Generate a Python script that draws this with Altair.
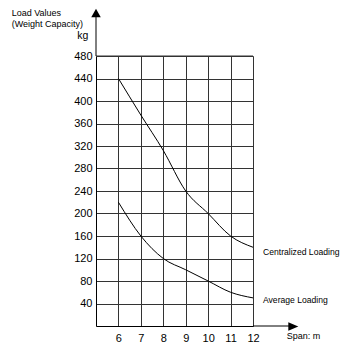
import altair as alt
import pandas as pd

span = [6, 7, 8, 9, 10, 11, 12]
centralized = [440, 375, 312, 240, 200, 160, 140]
average = [220, 160, 120, 100, 80, 60, 50]
y_ticks = [40, 80, 120, 160, 200, 240, 280, 320, 360, 400, 440, 480]
series_names = ["Centralized Loading", "Average Loading"]

FONT = "Liberation Sans"

df = pd.DataFrame({
    "span": span * 2,
    "load": centralized + average,
    "series": [series_names[0]] * len(span) + [series_names[1]] * len(span),
})
one = pd.DataFrame({"k": [0]})

x_scale = alt.Scale(domain=[5, 12], nice=False, zero=False)
y_scale = alt.Scale(domain=[0, 480], nice=False)
x_axis = alt.Axis(values=span, title=None, labelPadding=6, labelOverlap=False)
y_axis = alt.Axis(values=y_ticks, title=None, labelPadding=4, labelOverlap=False)

X = alt.X("span:Q", scale=x_scale, axis=x_axis)
Y = alt.Y("load:Q", scale=y_scale, axis=y_axis)

lines = alt.Chart(df).mark_line(color="black", strokeWidth=1, interpolate="monotone").encode(
    x=X, y=Y, detail="series:N",
)

last_c = pd.DataFrame({"span": [span[-1]], "load": [centralized[-1]], "label": [series_names[0]]})
last_a = pd.DataFrame({"span": [span[-1]], "load": [average[-1]], "label": [series_names[1]]})

lab_c = alt.Chart(last_c).mark_text(align="left", baseline="middle", dx=10, dy=4.5,
                                    fontSize=8.6, font=FONT, color="black").encode(
    x=X, y=Y, text="label:N")
lab_a = alt.Chart(last_a).mark_text(align="left", baseline="middle", dx=10, dy=2,
                                    fontSize=8.6, font=FONT, color="black").encode(
    x=X, y=Y, text="label:N")

# axis extensions with arrow heads
y_ext = alt.Chart(one).mark_rule(color="black", strokeWidth=1).encode(
    x=alt.value(0), y=alt.value(-40), y2=alt.value(0))
x_ext = alt.Chart(one).mark_rule(color="black", strokeWidth=1).encode(
    x=alt.value(157), x2=alt.value(193), y=alt.value(270))
top_grid = alt.Chart(one).mark_rule(color="#333333", strokeWidth=1).encode(
    x=alt.value(0), x2=alt.value(157), y=alt.value(0))
up_arrow = alt.Chart(one).mark_point(
    shape="M-1,0.9 L0,-0.9 L1,0.9 Z", size=90, filled=True, color="black", opacity=1
).encode(x=alt.value(0), y=alt.value(-43))
right_arrow = alt.Chart(one).mark_point(
    shape="M-1,-0.85 L1,0 L-1,0.85 Z", size=100, filled=True, color="black", opacity=1
).encode(x=alt.value(197.3), y=alt.value(270.5))

def note(txt, x, y, align="left", size=9):
    return alt.Chart(one).mark_text(text=txt, align=align, baseline="middle",
                                    fontSize=size, font=FONT, color="black").encode(
        x=alt.value(x), y=alt.value(y))

notes = [
    note("Load Values", -84.3, -43.5),
    note("(Weight Capacity)", -84.3, -32.5),
    note("kg", -7.7, -20.5, align="right", size=10.5),
    note("Span: m", 190.7, 279.7),
]

chart = alt.layer(lines, lab_c, lab_a, top_grid, y_ext, x_ext, up_arrow, right_arrow, *notes).properties(
    width=157, height=270,
    padding={"left": 88, "top": 48, "right": 88, "bottom": 19},
    autosize=alt.AutoSizeParams(type="none"),
).configure_view(stroke=None).configure(background="white").configure_axis(
    grid=True, gridColor="#333333", gridWidth=1, gridOpacity=1, ticks=False,
    domainColor="black", labelFontSize=11, labelColor="black", labelFont=FONT,
    labelOverlap=False, labelFlush=False, labelBound=False,
)

chart.save("out.html", embed_options={"renderer": "svg", "actions": False})
